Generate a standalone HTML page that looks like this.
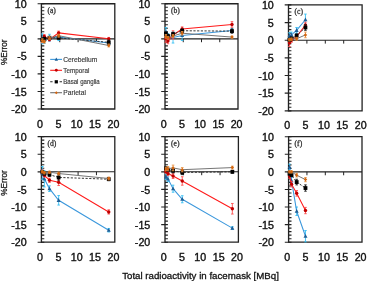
<!DOCTYPE html>
<html><head><meta charset="utf-8"><style>
html,body{margin:0;padding:0;background:#fff;}
body{width:367px;height:281px;overflow:hidden;font-family:"Liberation Sans",sans-serif;}
svg{display:block;filter:blur(0.3px);}
</style></head><body>
<svg width="367" height="281" viewBox="0 0 367 281">
<path d="M41.4 3.75H114.8V109H41.4" fill="none" stroke="#222" stroke-width="1.3"/>
<path d="M41.4 38.83H114.8" stroke="#222" stroke-width="1.1"/>
<path d="M59.75 38.83V42.23M78.1 38.83V42.23M96.45 38.83V42.23" stroke="#222" stroke-width="1"/>
<path d="M41.4 3.15V109.6" stroke="#222" stroke-width="1.35"/>
<path d="M37.6 3.75H44.3M37.6 21.29H44.3M37.6 38.83H44.3M37.6 56.38H44.3M37.6 73.92H44.3M37.6 91.46H44.3M37.6 109H44.3" stroke="#222" stroke-width="1.15"/>
<path d="M41.4 7.26H44.3M41.4 10.77H44.3M41.4 14.28H44.3M41.4 17.78H44.3M41.4 24.8H44.3M41.4 28.31H44.3M41.4 31.82H44.3M41.4 35.33H44.3M41.4 42.34H44.3M41.4 45.85H44.3M41.4 49.36H44.3M41.4 52.87H44.3M41.4 59.88H44.3M41.4 63.39H44.3M41.4 66.9H44.3M41.4 70.41H44.3M41.4 77.42H44.3M41.4 80.93H44.3M41.4 84.44H44.3M41.4 87.95H44.3M41.4 94.97H44.3M41.4 98.47H44.3M41.4 101.98H44.3M41.4 105.49H44.3" stroke="#222" stroke-width="1.1"/>
<text transform="translate(26.7 7.85) scale(1.07 1)" font-family='"Liberation Sans", sans-serif' font-size="10" fill="#111" text-anchor="end" stroke="#111" stroke-width="0.35">10</text>
<text transform="translate(26.7 25.39) scale(1.07 1)" font-family='"Liberation Sans", sans-serif' font-size="10" fill="#111" text-anchor="end" stroke="#111" stroke-width="0.35">5</text>
<text transform="translate(26.7 42.93) scale(1.07 1)" font-family='"Liberation Sans", sans-serif' font-size="10" fill="#111" text-anchor="end" stroke="#111" stroke-width="0.35">0</text>
<text transform="translate(26.7 60.48) scale(1.07 1)" font-family='"Liberation Sans", sans-serif' font-size="10" fill="#111" text-anchor="end" stroke="#111" stroke-width="0.35">-5</text>
<text transform="translate(26.7 78.02) scale(1.07 1)" font-family='"Liberation Sans", sans-serif' font-size="10" fill="#111" text-anchor="end" stroke="#111" stroke-width="0.35">-10</text>
<text transform="translate(26.7 95.56) scale(1.07 1)" font-family='"Liberation Sans", sans-serif' font-size="10" fill="#111" text-anchor="end" stroke="#111" stroke-width="0.35">-15</text>
<text transform="translate(26.7 113.1) scale(1.07 1)" font-family='"Liberation Sans", sans-serif' font-size="10" fill="#111" text-anchor="end" stroke="#111" stroke-width="0.35">-20</text>
<text transform="translate(40 127.6) scale(1.07 1)" font-family='"Liberation Sans", sans-serif' font-size="10" fill="#111" text-anchor="middle" stroke="#111" stroke-width="0.35">0</text>
<text transform="translate(58.35 127.6) scale(1.07 1)" font-family='"Liberation Sans", sans-serif' font-size="10" fill="#111" text-anchor="middle" stroke="#111" stroke-width="0.35">5</text>
<text transform="translate(76.7 127.6) scale(1.07 1)" font-family='"Liberation Sans", sans-serif' font-size="10" fill="#111" text-anchor="middle" stroke="#111" stroke-width="0.35">10</text>
<text transform="translate(95.05 127.6) scale(1.07 1)" font-family='"Liberation Sans", sans-serif' font-size="10" fill="#111" text-anchor="middle" stroke="#111" stroke-width="0.35">15</text>
<text transform="translate(113.4 127.6) scale(1.07 1)" font-family='"Liberation Sans", sans-serif' font-size="10" fill="#111" text-anchor="middle" stroke="#111" stroke-width="0.35">20</text>
<text x="47.4" y="12.65" font-family='"Liberation Serif", serif' font-size="7.6" fill="#333" stroke="#333" stroke-width="0.3">(a)</text>
<path d="M42.32 33.92V43.75M41.02 33.92H43.62M41.02 43.75H43.62M44.34 36.38V43.39M43.04 36.38H45.64M43.04 43.39H45.64M49.47 34.27V41.29M48.17 34.27H50.77M48.17 41.29H50.77M58.65 33.57V40.59M57.35 33.57H59.95M57.35 40.59H59.95M108.74 40.94V45.15M107.44 40.94H110.04M107.44 45.15H110.04" stroke="#34c0f4" stroke-width="0.9" fill="none"/>
<polyline points="42.32,38.83 44.34,39.89 49.47,37.78 58.65,37.08 108.74,43.04" fill="none" stroke="#3a97dc" stroke-width="1.05"/>
<path d="M42.32 36.63L44.32 40.43L40.32 40.43Z" fill="#1f5f96"/>
<path d="M44.34 37.69L46.34 41.49L42.34 41.49Z" fill="#1f5f96"/>
<path d="M49.47 35.58L51.47 39.38L47.47 39.38Z" fill="#1f5f96"/>
<path d="M58.65 34.88L60.65 38.68L56.65 38.68Z" fill="#1f5f96"/>
<path d="M108.74 40.84L110.74 44.64L106.74 44.64Z" fill="#1f5f96"/>
<path d="M42.32 38.48V42.69M41.02 38.48H43.62M41.02 42.69H43.62M44.34 34.62V38.13M43.04 34.62H45.64M43.04 38.13H45.64M49.47 38.13V40.94M48.17 38.13H50.77M48.17 40.94H50.77M58.65 31.12V34.62M57.35 31.12H59.95M57.35 34.62H59.95M108.74 37.43V40.24M107.44 37.43H110.04M107.44 40.24H110.04" stroke="#ff5050" stroke-width="0.9" fill="none"/>
<polyline points="42.32,40.59 44.34,36.38 49.47,39.53 58.65,32.87 108.74,38.83" fill="none" stroke="#ff1a1a" stroke-width="1.05"/>
<circle cx="42.32" cy="40.59" r="1.7" fill="#c00000"/>
<circle cx="44.34" cy="36.38" r="1.7" fill="#c00000"/>
<circle cx="49.47" cy="39.53" r="1.7" fill="#c00000"/>
<circle cx="58.65" cy="32.87" r="1.7" fill="#c00000"/>
<circle cx="108.74" cy="38.83" r="1.7" fill="#c00000"/>
<path d="M42.32 38.13V41.64M41.02 38.13H43.62M41.02 41.64H43.62M44.34 37.43V40.24M43.04 37.43H45.64M43.04 40.24H45.64M49.47 36.38V39.18M48.17 36.38H50.77M48.17 39.18H50.77M58.65 36.38V39.18M57.35 36.38H59.95M57.35 39.18H59.95M108.74 40.24V44.45M107.44 40.24H110.04M107.44 44.45H110.04" stroke="#202020" stroke-width="0.9" fill="none"/>
<polyline points="42.32,39.89 44.34,38.83 49.47,37.78 58.65,37.78 108.74,42.34" fill="none" stroke="#2a2a2a" stroke-width="0.95" stroke-dasharray="2.2 1.5"/>
<rect x="40.42" y="37.99" width="3.8" height="3.8" fill="#000000"/>
<rect x="42.44" y="36.93" width="3.8" height="3.8" fill="#000000"/>
<rect x="47.57" y="35.88" width="3.8" height="3.8" fill="#000000"/>
<rect x="56.75" y="35.88" width="3.8" height="3.8" fill="#000000"/>
<rect x="106.84" y="40.44" width="3.8" height="3.8" fill="#000000"/>
<path d="M42.32 38.83V42.34M41.02 38.83H43.62M41.02 42.34H43.62M44.34 40.24V43.04M43.04 40.24H45.64M43.04 43.04H45.64M49.47 36.73V39.54M48.17 36.73H50.77M48.17 39.54H50.77M58.65 34.27V37.08M57.35 34.27H59.95M57.35 37.08H59.95M108.74 44.1V46.9M107.44 44.1H110.04M107.44 46.9H110.04" stroke="#e8954a" stroke-width="0.9" fill="none"/>
<polyline points="42.32,40.59 44.34,41.64 49.47,38.13 58.65,35.68 108.74,45.5" fill="none" stroke="#6e6e6e" stroke-width="0.95"/>
<path d="M42.32 38.84L44.07 40.59L42.32 42.34L40.57 40.59Z" fill="#d4660f"/>
<path d="M44.34 39.89L46.09 41.64L44.34 43.39L42.59 41.64Z" fill="#d4660f"/>
<path d="M49.47 36.38L51.22 38.13L49.47 39.88L47.72 38.13Z" fill="#d4660f"/>
<path d="M58.65 33.93L60.4 35.68L58.65 37.43L56.9 35.68Z" fill="#d4660f"/>
<path d="M108.74 43.75L110.49 45.5L108.74 47.25L106.99 45.5Z" fill="#d4660f"/>
<path d="M50.2 59.4H62" stroke="#3a97dc" stroke-width="1.1"/>
<path d="M56.3 57.53L58 60.76L54.6 60.76Z" fill="#1f5f96"/>
<text x="63.3" y="61.8" font-family='"Liberation Sans", sans-serif' font-size="6.5" fill="#3a3a3a" stroke="#3a3a3a" stroke-width="0.15" textLength="34" lengthAdjust="spacingAndGlyphs">Cerebellum</text>
<path d="M50.2 70.3H62" stroke="#ff1a1a" stroke-width="1.1"/>
<circle cx="56.3" cy="70.3" r="1.44" fill="#c00000"/>
<text x="63.3" y="72.7" font-family='"Liberation Sans", sans-serif' font-size="6.5" fill="#3a3a3a" stroke="#3a3a3a" stroke-width="0.15" textLength="26" lengthAdjust="spacingAndGlyphs">Temporal</text>
<path d="M50.2 81.8H52.6M59.6 81.8H62" stroke="#2a2a2a" stroke-width="1.1"/>
<rect x="54.68" y="80.19" width="3.23" height="3.23" fill="#000000"/>
<text x="63.3" y="84.2" font-family='"Liberation Sans", sans-serif' font-size="6.5" fill="#3a3a3a" stroke="#3a3a3a" stroke-width="0.15" textLength="36.4" lengthAdjust="spacingAndGlyphs">Basal ganglia</text>
<path d="M50.2 92.7H62" stroke="#6e6e6e" stroke-width="1.1"/>
<path d="M56.3 91.21L57.79 92.7L56.3 94.19L54.81 92.7Z" fill="#d4660f"/>
<text x="63.3" y="95.1" font-family='"Liberation Sans", sans-serif' font-size="6.5" fill="#3a3a3a" stroke="#3a3a3a" stroke-width="0.15" textLength="22.6" lengthAdjust="spacingAndGlyphs">Parietal</text>
<path d="M165 3.75H238V109H165" fill="none" stroke="#222" stroke-width="1.3"/>
<path d="M165 38.83H238" stroke="#222" stroke-width="1.1"/>
<path d="M183.25 38.83V42.23M201.5 38.83V42.23M219.75 38.83V42.23" stroke="#222" stroke-width="1"/>
<path d="M165 3.15V109.6" stroke="#222" stroke-width="1.35"/>
<path d="M161.2 3.75H167.9M161.2 21.29H167.9M161.2 38.83H167.9M161.2 56.38H167.9M161.2 73.92H167.9M161.2 91.46H167.9M161.2 109H167.9" stroke="#222" stroke-width="1.15"/>
<path d="M165 7.26H167.9M165 10.77H167.9M165 14.28H167.9M165 17.78H167.9M165 24.8H167.9M165 28.31H167.9M165 31.82H167.9M165 35.33H167.9M165 42.34H167.9M165 45.85H167.9M165 49.36H167.9M165 52.87H167.9M165 59.88H167.9M165 63.39H167.9M165 66.9H167.9M165 70.41H167.9M165 77.42H167.9M165 80.93H167.9M165 84.44H167.9M165 87.95H167.9M165 94.97H167.9M165 98.47H167.9M165 101.98H167.9M165 105.49H167.9" stroke="#222" stroke-width="1.1"/>
<text transform="translate(150.3 7.85) scale(1.07 1)" font-family='"Liberation Sans", sans-serif' font-size="10" fill="#111" text-anchor="end" stroke="#111" stroke-width="0.35">10</text>
<text transform="translate(150.3 25.39) scale(1.07 1)" font-family='"Liberation Sans", sans-serif' font-size="10" fill="#111" text-anchor="end" stroke="#111" stroke-width="0.35">5</text>
<text transform="translate(150.3 42.93) scale(1.07 1)" font-family='"Liberation Sans", sans-serif' font-size="10" fill="#111" text-anchor="end" stroke="#111" stroke-width="0.35">0</text>
<text transform="translate(150.3 60.48) scale(1.07 1)" font-family='"Liberation Sans", sans-serif' font-size="10" fill="#111" text-anchor="end" stroke="#111" stroke-width="0.35">-5</text>
<text transform="translate(150.3 78.02) scale(1.07 1)" font-family='"Liberation Sans", sans-serif' font-size="10" fill="#111" text-anchor="end" stroke="#111" stroke-width="0.35">-10</text>
<text transform="translate(150.3 95.56) scale(1.07 1)" font-family='"Liberation Sans", sans-serif' font-size="10" fill="#111" text-anchor="end" stroke="#111" stroke-width="0.35">-15</text>
<text transform="translate(150.3 113.1) scale(1.07 1)" font-family='"Liberation Sans", sans-serif' font-size="10" fill="#111" text-anchor="end" stroke="#111" stroke-width="0.35">-20</text>
<text transform="translate(163.6 127.6) scale(1.07 1)" font-family='"Liberation Sans", sans-serif' font-size="10" fill="#111" text-anchor="middle" stroke="#111" stroke-width="0.35">0</text>
<text transform="translate(181.85 127.6) scale(1.07 1)" font-family='"Liberation Sans", sans-serif' font-size="10" fill="#111" text-anchor="middle" stroke="#111" stroke-width="0.35">5</text>
<text transform="translate(200.1 127.6) scale(1.07 1)" font-family='"Liberation Sans", sans-serif' font-size="10" fill="#111" text-anchor="middle" stroke="#111" stroke-width="0.35">10</text>
<text transform="translate(218.35 127.6) scale(1.07 1)" font-family='"Liberation Sans", sans-serif' font-size="10" fill="#111" text-anchor="middle" stroke="#111" stroke-width="0.35">15</text>
<text transform="translate(236.6 127.6) scale(1.07 1)" font-family='"Liberation Sans", sans-serif' font-size="10" fill="#111" text-anchor="middle" stroke="#111" stroke-width="0.35">20</text>
<text x="171" y="12.65" font-family='"Liberation Serif", serif' font-size="7.6" fill="#333" stroke="#333" stroke-width="0.3">(b)</text>
<path d="M165.91 27.61V36.03M164.61 27.61H167.21M164.61 36.03H167.21M167.92 33.57V40.59M166.62 33.57H169.22M166.62 40.59H169.22M173.03 31.82V43.04M171.73 31.82H174.33M171.73 43.04H174.33M182.16 30.59V40.41M180.85 30.59H183.46M180.85 40.41H183.46M231.98 28.31V32.52M230.68 28.31H233.28M230.68 32.52H233.28" stroke="#34c0f4" stroke-width="0.9" fill="none"/>
<polyline points="165.91,31.82 167.92,37.08 173.03,37.43 182.16,35.5 231.98,30.41" fill="none" stroke="#3a97dc" stroke-width="1.05"/>
<path d="M165.91 29.62L167.91 33.42L163.91 33.42Z" fill="#1f5f96"/>
<path d="M167.92 34.88L169.92 38.68L165.92 38.68Z" fill="#1f5f96"/>
<path d="M173.03 35.23L175.03 39.03L171.03 39.03Z" fill="#1f5f96"/>
<path d="M182.16 33.3L184.16 37.1L180.16 37.1Z" fill="#1f5f96"/>
<path d="M231.98 28.21L233.98 32.01L229.98 32.01Z" fill="#1f5f96"/>
<path d="M165.91 35.33V42.34M164.61 35.33H167.21M164.61 42.34H167.21M167.92 38.13V43.74M166.62 38.13H169.22M166.62 43.74H169.22M173.03 30.76V39.18M171.73 30.76H174.33M171.73 39.18H174.33M182.16 26.91V31.12M180.85 26.91H183.46M180.85 31.12H183.46M231.98 21.64V27.26M230.68 21.64H233.28M230.68 27.26H233.28" stroke="#ff5050" stroke-width="0.9" fill="none"/>
<polyline points="165.91,38.83 167.92,40.94 173.03,34.97 182.16,29.01 231.98,24.45" fill="none" stroke="#ff1a1a" stroke-width="1.05"/>
<circle cx="165.91" cy="38.83" r="1.7" fill="#c00000"/>
<circle cx="167.92" cy="40.94" r="1.7" fill="#c00000"/>
<circle cx="173.03" cy="34.97" r="1.7" fill="#c00000"/>
<circle cx="182.16" cy="29.01" r="1.7" fill="#c00000"/>
<circle cx="231.98" cy="24.45" r="1.7" fill="#c00000"/>
<path d="M165.91 31.82V35.33M164.61 31.82H167.21M164.61 35.33H167.21M167.92 34.27V37.78M166.62 34.27H169.22M166.62 37.78H169.22M173.03 32.34V35.85M171.73 32.34H174.33M171.73 35.85H174.33M182.16 29.01V32.52M180.85 29.01H183.46M180.85 32.52H183.46M231.98 29.01V33.22M230.68 29.01H233.28M230.68 33.22H233.28" stroke="#202020" stroke-width="0.9" fill="none"/>
<polyline points="165.91,33.57 167.92,36.03 173.03,34.1 182.16,30.76 231.98,31.11" fill="none" stroke="#2a2a2a" stroke-width="0.95" stroke-dasharray="2.2 1.5"/>
<rect x="164.01" y="31.67" width="3.8" height="3.8" fill="#000000"/>
<rect x="166.02" y="34.13" width="3.8" height="3.8" fill="#000000"/>
<rect x="171.13" y="32.2" width="3.8" height="3.8" fill="#000000"/>
<rect x="180.25" y="28.86" width="3.8" height="3.8" fill="#000000"/>
<rect x="230.08" y="29.21" width="3.8" height="3.8" fill="#000000"/>
<path d="M165.91 34.62V38.13M164.61 34.62H167.21M164.61 38.13H167.21M167.92 36.38V39.18M166.62 36.38H169.22M166.62 39.18H169.22M173.03 34.62V37.43M171.73 34.62H174.33M171.73 37.43H174.33M182.16 31.47V34.97M180.85 31.47H183.46M180.85 34.97H183.46M231.98 36.03V38.13M230.68 36.03H233.28M230.68 38.13H233.28" stroke="#e8954a" stroke-width="0.9" fill="none"/>
<polyline points="165.91,36.38 167.92,37.78 173.03,36.03 182.16,33.22 231.98,37.08" fill="none" stroke="#6e6e6e" stroke-width="0.95"/>
<path d="M165.91 34.63L167.66 36.38L165.91 38.13L164.16 36.38Z" fill="#d4660f"/>
<path d="M167.92 36.03L169.67 37.78L167.92 39.53L166.17 37.78Z" fill="#d4660f"/>
<path d="M173.03 34.28L174.78 36.03L173.03 37.78L171.28 36.03Z" fill="#d4660f"/>
<path d="M182.16 31.47L183.91 33.22L182.16 34.97L180.41 33.22Z" fill="#d4660f"/>
<path d="M231.98 35.33L233.73 37.08L231.98 38.83L230.23 37.08Z" fill="#d4660f"/>
<path d="M288.5 4.9H362.1V110.8H288.5" fill="none" stroke="#222" stroke-width="1.3"/>
<path d="M288.5 40.2H362.1" stroke="#222" stroke-width="1.1"/>
<path d="M306.9 40.2V43.6M325.3 40.2V43.6M343.7 40.2V43.6" stroke="#222" stroke-width="1"/>
<path d="M288.5 4.3V111.4" stroke="#222" stroke-width="1.35"/>
<path d="M284.7 4.9H291.4M284.7 22.55H291.4M284.7 40.2H291.4M284.7 57.85H291.4M284.7 75.5H291.4M284.7 93.15H291.4M284.7 110.8H291.4" stroke="#222" stroke-width="1.15"/>
<path d="M288.5 8.43H291.4M288.5 11.96H291.4M288.5 15.49H291.4M288.5 19.02H291.4M288.5 26.08H291.4M288.5 29.61H291.4M288.5 33.14H291.4M288.5 36.67H291.4M288.5 43.73H291.4M288.5 47.26H291.4M288.5 50.79H291.4M288.5 54.32H291.4M288.5 61.38H291.4M288.5 64.91H291.4M288.5 68.44H291.4M288.5 71.97H291.4M288.5 79.03H291.4M288.5 82.56H291.4M288.5 86.09H291.4M288.5 89.62H291.4M288.5 96.68H291.4M288.5 100.21H291.4M288.5 103.74H291.4M288.5 107.27H291.4" stroke="#222" stroke-width="1.1"/>
<text transform="translate(273.8 9) scale(1.07 1)" font-family='"Liberation Sans", sans-serif' font-size="10" fill="#111" text-anchor="end" stroke="#111" stroke-width="0.35">10</text>
<text transform="translate(273.8 26.65) scale(1.07 1)" font-family='"Liberation Sans", sans-serif' font-size="10" fill="#111" text-anchor="end" stroke="#111" stroke-width="0.35">5</text>
<text transform="translate(273.8 44.3) scale(1.07 1)" font-family='"Liberation Sans", sans-serif' font-size="10" fill="#111" text-anchor="end" stroke="#111" stroke-width="0.35">0</text>
<text transform="translate(273.8 61.95) scale(1.07 1)" font-family='"Liberation Sans", sans-serif' font-size="10" fill="#111" text-anchor="end" stroke="#111" stroke-width="0.35">-5</text>
<text transform="translate(273.8 79.6) scale(1.07 1)" font-family='"Liberation Sans", sans-serif' font-size="10" fill="#111" text-anchor="end" stroke="#111" stroke-width="0.35">-10</text>
<text transform="translate(273.8 97.25) scale(1.07 1)" font-family='"Liberation Sans", sans-serif' font-size="10" fill="#111" text-anchor="end" stroke="#111" stroke-width="0.35">-15</text>
<text transform="translate(273.8 114.9) scale(1.07 1)" font-family='"Liberation Sans", sans-serif' font-size="10" fill="#111" text-anchor="end" stroke="#111" stroke-width="0.35">-20</text>
<text transform="translate(287.1 129.4) scale(1.07 1)" font-family='"Liberation Sans", sans-serif' font-size="10" fill="#111" text-anchor="middle" stroke="#111" stroke-width="0.35">0</text>
<text transform="translate(305.5 129.4) scale(1.07 1)" font-family='"Liberation Sans", sans-serif' font-size="10" fill="#111" text-anchor="middle" stroke="#111" stroke-width="0.35">5</text>
<text transform="translate(323.9 129.4) scale(1.07 1)" font-family='"Liberation Sans", sans-serif' font-size="10" fill="#111" text-anchor="middle" stroke="#111" stroke-width="0.35">10</text>
<text transform="translate(342.3 129.4) scale(1.07 1)" font-family='"Liberation Sans", sans-serif' font-size="10" fill="#111" text-anchor="middle" stroke="#111" stroke-width="0.35">15</text>
<text transform="translate(360.7 129.4) scale(1.07 1)" font-family='"Liberation Sans", sans-serif' font-size="10" fill="#111" text-anchor="middle" stroke="#111" stroke-width="0.35">20</text>
<text x="294.5" y="13.8" font-family='"Liberation Serif", serif' font-size="7.6" fill="#333" stroke="#333" stroke-width="0.3">(c)</text>
<path d="M289.42 32.79V38.43M288.12 32.79H290.72M288.12 38.43H290.72M291.44 32.08V37.73M290.14 32.08H292.74M290.14 37.73H292.74M296.6 27.49V33.14M295.3 27.49H297.9M295.3 33.14H297.9M305.43 14.08V25.37M304.13 14.08H306.73M304.13 25.37H306.73" stroke="#34c0f4" stroke-width="0.9" fill="none"/>
<polyline points="289.42,35.61 291.44,34.91 296.6,30.32 305.43,19.73" fill="none" stroke="#3a97dc" stroke-width="1.05"/>
<path d="M289.42 33.41L291.42 37.21L287.42 37.21Z" fill="#1f5f96"/>
<path d="M291.44 32.7L293.44 36.51L289.44 36.51Z" fill="#1f5f96"/>
<path d="M296.6 28.12L298.6 31.92L294.6 31.92Z" fill="#1f5f96"/>
<path d="M305.43 17.53L307.43 21.33L303.43 21.33Z" fill="#1f5f96"/>
<path d="M289.42 39.49V46.55M288.12 39.49H290.72M288.12 46.55H290.72M291.44 38.08V42.32M290.14 38.08H292.74M290.14 42.32H292.74M296.6 34.55V38.79M295.3 34.55H297.9M295.3 38.79H297.9M305.43 22.2V27.84M304.13 22.2H306.73M304.13 27.84H306.73" stroke="#ff5050" stroke-width="0.9" fill="none"/>
<polyline points="289.42,43.02 291.44,40.2 296.6,36.67 305.43,25.02" fill="none" stroke="#ff1a1a" stroke-width="1.05"/>
<circle cx="289.42" cy="43.02" r="1.7" fill="#c00000"/>
<circle cx="291.44" cy="40.2" r="1.7" fill="#c00000"/>
<circle cx="296.6" cy="36.67" r="1.7" fill="#c00000"/>
<circle cx="305.43" cy="25.02" r="1.7" fill="#c00000"/>
<path d="M289.42 38.44V41.26M288.12 38.44H290.72M288.12 41.26H290.72M291.44 37.02V39.85M290.14 37.02H292.74M290.14 39.85H292.74M296.6 33.85V37.38M295.3 33.85H297.9M295.3 37.38H297.9M305.43 24.67V30.32M304.13 24.67H306.73M304.13 30.32H306.73" stroke="#202020" stroke-width="0.9" fill="none"/>
<polyline points="289.42,39.85 291.44,38.43 296.6,35.61 305.43,27.49" fill="none" stroke="#2a2a2a" stroke-width="0.95" stroke-dasharray="2.2 1.5"/>
<rect x="287.52" y="37.95" width="3.8" height="3.8" fill="#000000"/>
<rect x="289.54" y="36.53" width="3.8" height="3.8" fill="#000000"/>
<rect x="294.7" y="33.71" width="3.8" height="3.8" fill="#000000"/>
<rect x="303.53" y="25.59" width="3.8" height="3.8" fill="#000000"/>
<path d="M289.42 38.79V40.91M288.12 38.79H290.72M288.12 40.91H290.72M291.44 38.08V40.2M290.14 38.08H292.74M290.14 40.2H292.74M296.6 37.38V40.2M295.3 37.38H297.9M295.3 40.2H297.9M305.43 32.08V37.73M304.13 32.08H306.73M304.13 37.73H306.73" stroke="#e8954a" stroke-width="0.9" fill="none"/>
<polyline points="289.42,39.85 291.44,39.14 296.6,38.79 305.43,34.91" fill="none" stroke="#6e6e6e" stroke-width="0.95"/>
<path d="M289.42 38.1L291.17 39.85L289.42 41.6L287.67 39.85Z" fill="#d4660f"/>
<path d="M291.44 37.39L293.19 39.14L291.44 40.89L289.69 39.14Z" fill="#d4660f"/>
<path d="M296.6 37.04L298.35 38.79L296.6 40.54L294.85 38.79Z" fill="#d4660f"/>
<path d="M305.43 33.16L307.18 34.91L305.43 36.66L303.68 34.91Z" fill="#d4660f"/>
<path d="M41.4 136.6H114.8V242.2H41.4" fill="none" stroke="#222" stroke-width="1.3"/>
<path d="M41.4 171.8H114.8" stroke="#222" stroke-width="1.1"/>
<path d="M59.75 171.8V175.2M78.1 171.8V175.2M96.45 171.8V175.2" stroke="#222" stroke-width="1"/>
<path d="M41.4 136V242.8" stroke="#222" stroke-width="1.35"/>
<path d="M37.6 136.6H44.3M37.6 154.2H44.3M37.6 171.8H44.3M37.6 189.4H44.3M37.6 207H44.3M37.6 224.6H44.3M37.6 242.2H44.3" stroke="#222" stroke-width="1.15"/>
<path d="M41.4 140.12H44.3M41.4 143.64H44.3M41.4 147.16H44.3M41.4 150.68H44.3M41.4 157.72H44.3M41.4 161.24H44.3M41.4 164.76H44.3M41.4 168.28H44.3M41.4 175.32H44.3M41.4 178.84H44.3M41.4 182.36H44.3M41.4 185.88H44.3M41.4 192.92H44.3M41.4 196.44H44.3M41.4 199.96H44.3M41.4 203.48H44.3M41.4 210.52H44.3M41.4 214.04H44.3M41.4 217.56H44.3M41.4 221.08H44.3M41.4 228.12H44.3M41.4 231.64H44.3M41.4 235.16H44.3M41.4 238.68H44.3" stroke="#222" stroke-width="1.1"/>
<text transform="translate(26.7 140.7) scale(1.07 1)" font-family='"Liberation Sans", sans-serif' font-size="10" fill="#111" text-anchor="end" stroke="#111" stroke-width="0.35">10</text>
<text transform="translate(26.7 158.3) scale(1.07 1)" font-family='"Liberation Sans", sans-serif' font-size="10" fill="#111" text-anchor="end" stroke="#111" stroke-width="0.35">5</text>
<text transform="translate(26.7 175.9) scale(1.07 1)" font-family='"Liberation Sans", sans-serif' font-size="10" fill="#111" text-anchor="end" stroke="#111" stroke-width="0.35">0</text>
<text transform="translate(26.7 193.5) scale(1.07 1)" font-family='"Liberation Sans", sans-serif' font-size="10" fill="#111" text-anchor="end" stroke="#111" stroke-width="0.35">-5</text>
<text transform="translate(26.7 211.1) scale(1.07 1)" font-family='"Liberation Sans", sans-serif' font-size="10" fill="#111" text-anchor="end" stroke="#111" stroke-width="0.35">-10</text>
<text transform="translate(26.7 228.7) scale(1.07 1)" font-family='"Liberation Sans", sans-serif' font-size="10" fill="#111" text-anchor="end" stroke="#111" stroke-width="0.35">-15</text>
<text transform="translate(26.7 246.3) scale(1.07 1)" font-family='"Liberation Sans", sans-serif' font-size="10" fill="#111" text-anchor="end" stroke="#111" stroke-width="0.35">-20</text>
<text transform="translate(40 260.8) scale(1.07 1)" font-family='"Liberation Sans", sans-serif' font-size="10" fill="#111" text-anchor="middle" stroke="#111" stroke-width="0.35">0</text>
<text transform="translate(58.35 260.8) scale(1.07 1)" font-family='"Liberation Sans", sans-serif' font-size="10" fill="#111" text-anchor="middle" stroke="#111" stroke-width="0.35">5</text>
<text transform="translate(76.7 260.8) scale(1.07 1)" font-family='"Liberation Sans", sans-serif' font-size="10" fill="#111" text-anchor="middle" stroke="#111" stroke-width="0.35">10</text>
<text transform="translate(95.05 260.8) scale(1.07 1)" font-family='"Liberation Sans", sans-serif' font-size="10" fill="#111" text-anchor="middle" stroke="#111" stroke-width="0.35">15</text>
<text transform="translate(113.4 260.8) scale(1.07 1)" font-family='"Liberation Sans", sans-serif' font-size="10" fill="#111" text-anchor="middle" stroke="#111" stroke-width="0.35">20</text>
<text x="47.4" y="145.5" font-family='"Liberation Serif", serif' font-size="7.6" fill="#333" stroke="#333" stroke-width="0.3">(d)</text>
<path d="M42.32 166.52V179.19M41.02 166.52H43.62M41.02 179.19H43.62M44.34 170.74V186.94M43.04 170.74H45.64M43.04 186.94H45.64M49.47 185.88V191.51M48.17 185.88H50.77M48.17 191.51H50.77M58.65 195.56V205.06M57.35 195.56H59.95M57.35 205.06H59.95M108.74 228.47V231.99M107.44 228.47H110.04M107.44 231.99H110.04" stroke="#34c0f4" stroke-width="0.9" fill="none"/>
<polyline points="42.32,172.86 44.34,178.84 49.47,188.7 58.65,200.31 108.74,230.23" fill="none" stroke="#3a97dc" stroke-width="1.05"/>
<path d="M42.32 170.66L44.32 174.46L40.32 174.46Z" fill="#1f5f96"/>
<path d="M44.34 176.64L46.34 180.44L42.34 180.44Z" fill="#1f5f96"/>
<path d="M49.47 186.5L51.47 190.3L47.47 190.3Z" fill="#1f5f96"/>
<path d="M58.65 198.11L60.65 201.91L56.65 201.91Z" fill="#1f5f96"/>
<path d="M108.74 228.03L110.74 231.83L106.74 231.83Z" fill="#1f5f96"/>
<path d="M42.32 170.04V173.56M41.02 170.04H43.62M41.02 173.56H43.62M44.34 173.56V177.08M43.04 173.56H45.64M43.04 177.08H45.64M49.47 178.14V182.36M48.17 178.14H50.77M48.17 182.36H50.77M58.65 179.19V185.53M57.35 179.19H59.95M57.35 185.53H59.95M108.74 209.82V214.04M107.44 209.82H110.04M107.44 214.04H110.04" stroke="#ff5050" stroke-width="0.9" fill="none"/>
<polyline points="42.32,171.8 44.34,175.32 49.47,180.25 58.65,182.36 108.74,211.93" fill="none" stroke="#ff1a1a" stroke-width="1.05"/>
<circle cx="42.32" cy="171.8" r="1.7" fill="#c00000"/>
<circle cx="44.34" cy="175.32" r="1.7" fill="#c00000"/>
<circle cx="49.47" cy="180.25" r="1.7" fill="#c00000"/>
<circle cx="58.65" cy="182.36" r="1.7" fill="#c00000"/>
<circle cx="108.74" cy="211.93" r="1.7" fill="#c00000"/>
<path d="M42.32 170.74V172.86M41.02 170.74H43.62M41.02 172.86H43.62M44.34 172.15V174.97M43.04 172.15H45.64M43.04 174.97H45.64M49.47 172.86V176.38M48.17 172.86H50.77M48.17 176.38H50.77M58.65 174.62V180.25M57.35 174.62H59.95M57.35 180.25H59.95M108.74 177.78V180.6M107.44 177.78H110.04M107.44 180.6H110.04" stroke="#202020" stroke-width="0.9" fill="none"/>
<polyline points="42.32,171.8 44.34,173.56 49.47,174.62 58.65,177.43 108.74,179.19" fill="none" stroke="#2a2a2a" stroke-width="0.95" stroke-dasharray="2.2 1.5"/>
<rect x="40.42" y="169.9" width="3.8" height="3.8" fill="#000000"/>
<rect x="42.44" y="171.66" width="3.8" height="3.8" fill="#000000"/>
<rect x="47.57" y="172.72" width="3.8" height="3.8" fill="#000000"/>
<rect x="56.75" y="175.53" width="3.8" height="3.8" fill="#000000"/>
<rect x="106.84" y="177.29" width="3.8" height="3.8" fill="#000000"/>
<path d="M42.32 170.74V172.86M41.02 170.74H43.62M41.02 172.86H43.62M44.34 171.8V173.91M43.04 171.8H45.64M43.04 173.91H45.64M49.47 171.1V173.21M48.17 171.1H50.77M48.17 173.21H50.77M58.65 172.15V174.97M57.35 172.15H59.95M57.35 174.97H59.95M108.74 177.08V179.9M107.44 177.08H110.04M107.44 179.9H110.04" stroke="#e8954a" stroke-width="0.9" fill="none"/>
<polyline points="42.32,171.8 44.34,172.86 49.47,172.15 58.65,173.56 108.74,178.49" fill="none" stroke="#6e6e6e" stroke-width="0.95"/>
<path d="M42.32 170.05L44.07 171.8L42.32 173.55L40.57 171.8Z" fill="#d4660f"/>
<path d="M44.34 171.11L46.09 172.86L44.34 174.61L42.59 172.86Z" fill="#d4660f"/>
<path d="M49.47 170.4L51.22 172.15L49.47 173.9L47.72 172.15Z" fill="#d4660f"/>
<path d="M58.65 171.81L60.4 173.56L58.65 175.31L56.9 173.56Z" fill="#d4660f"/>
<path d="M108.74 176.74L110.49 178.49L108.74 180.24L106.99 178.49Z" fill="#d4660f"/>
<path d="M165 136.6H238.4V242.2H165" fill="none" stroke="#222" stroke-width="1.3"/>
<path d="M165 171.8H238.4" stroke="#222" stroke-width="1.1"/>
<path d="M183.35 171.8V175.2M201.7 171.8V175.2M220.05 171.8V175.2" stroke="#222" stroke-width="1"/>
<path d="M165 136V242.8" stroke="#222" stroke-width="1.35"/>
<path d="M161.2 136.6H167.9M161.2 154.2H167.9M161.2 171.8H167.9M161.2 189.4H167.9M161.2 207H167.9M161.2 224.6H167.9M161.2 242.2H167.9" stroke="#222" stroke-width="1.15"/>
<path d="M165 140.12H167.9M165 143.64H167.9M165 147.16H167.9M165 150.68H167.9M165 157.72H167.9M165 161.24H167.9M165 164.76H167.9M165 168.28H167.9M165 175.32H167.9M165 178.84H167.9M165 182.36H167.9M165 185.88H167.9M165 192.92H167.9M165 196.44H167.9M165 199.96H167.9M165 203.48H167.9M165 210.52H167.9M165 214.04H167.9M165 217.56H167.9M165 221.08H167.9M165 228.12H167.9M165 231.64H167.9M165 235.16H167.9M165 238.68H167.9" stroke="#222" stroke-width="1.1"/>
<text transform="translate(150.3 140.7) scale(1.07 1)" font-family='"Liberation Sans", sans-serif' font-size="10" fill="#111" text-anchor="end" stroke="#111" stroke-width="0.35">10</text>
<text transform="translate(150.3 158.3) scale(1.07 1)" font-family='"Liberation Sans", sans-serif' font-size="10" fill="#111" text-anchor="end" stroke="#111" stroke-width="0.35">5</text>
<text transform="translate(150.3 175.9) scale(1.07 1)" font-family='"Liberation Sans", sans-serif' font-size="10" fill="#111" text-anchor="end" stroke="#111" stroke-width="0.35">0</text>
<text transform="translate(150.3 193.5) scale(1.07 1)" font-family='"Liberation Sans", sans-serif' font-size="10" fill="#111" text-anchor="end" stroke="#111" stroke-width="0.35">-5</text>
<text transform="translate(150.3 211.1) scale(1.07 1)" font-family='"Liberation Sans", sans-serif' font-size="10" fill="#111" text-anchor="end" stroke="#111" stroke-width="0.35">-10</text>
<text transform="translate(150.3 228.7) scale(1.07 1)" font-family='"Liberation Sans", sans-serif' font-size="10" fill="#111" text-anchor="end" stroke="#111" stroke-width="0.35">-15</text>
<text transform="translate(150.3 246.3) scale(1.07 1)" font-family='"Liberation Sans", sans-serif' font-size="10" fill="#111" text-anchor="end" stroke="#111" stroke-width="0.35">-20</text>
<text transform="translate(163.6 260.8) scale(1.07 1)" font-family='"Liberation Sans", sans-serif' font-size="10" fill="#111" text-anchor="middle" stroke="#111" stroke-width="0.35">0</text>
<text transform="translate(181.95 260.8) scale(1.07 1)" font-family='"Liberation Sans", sans-serif' font-size="10" fill="#111" text-anchor="middle" stroke="#111" stroke-width="0.35">5</text>
<text transform="translate(200.3 260.8) scale(1.07 1)" font-family='"Liberation Sans", sans-serif' font-size="10" fill="#111" text-anchor="middle" stroke="#111" stroke-width="0.35">10</text>
<text transform="translate(218.65 260.8) scale(1.07 1)" font-family='"Liberation Sans", sans-serif' font-size="10" fill="#111" text-anchor="middle" stroke="#111" stroke-width="0.35">15</text>
<text transform="translate(237 260.8) scale(1.07 1)" font-family='"Liberation Sans", sans-serif' font-size="10" fill="#111" text-anchor="middle" stroke="#111" stroke-width="0.35">20</text>
<text x="171" y="145.5" font-family='"Liberation Serif", serif' font-size="7.6" fill="#333" stroke="#333" stroke-width="0.3">(e)</text>
<path d="M165.92 173.91V179.54M164.62 173.91H167.22M164.62 179.54H167.22M167.94 176.02V181.66M166.64 176.02H169.24M166.64 181.66H169.24M173.07 185.18V192.22M171.77 185.18H174.37M171.77 192.22H174.37M182.25 195.74V202.78M180.95 195.74H183.55M180.95 202.78H183.55M232.34 226.71V229.53M231.04 226.71H233.64M231.04 229.53H233.64" stroke="#34c0f4" stroke-width="0.9" fill="none"/>
<polyline points="165.92,176.73 167.94,178.84 173.07,188.7 182.25,199.26 232.34,228.12" fill="none" stroke="#3a97dc" stroke-width="1.05"/>
<path d="M165.92 174.53L167.92 178.33L163.92 178.33Z" fill="#1f5f96"/>
<path d="M167.94 176.64L169.94 180.44L165.94 180.44Z" fill="#1f5f96"/>
<path d="M173.07 186.5L175.07 190.3L171.07 190.3Z" fill="#1f5f96"/>
<path d="M182.25 197.06L184.25 200.86L180.25 200.86Z" fill="#1f5f96"/>
<path d="M232.34 225.92L234.34 229.72L230.34 229.72Z" fill="#1f5f96"/>
<path d="M165.92 169.69V173.21M164.62 169.69H167.22M164.62 173.21H167.22M167.94 171.45V175.67M166.64 171.45H169.24M166.64 175.67H169.24M173.07 173.56V178.49M171.77 173.56H174.37M171.77 178.49H174.37M182.25 176.73V185.18M180.95 176.73H183.55M180.95 185.18H183.55M232.34 203.48V214.04M231.04 203.48H233.64M231.04 214.04H233.64" stroke="#ff5050" stroke-width="0.9" fill="none"/>
<polyline points="165.92,171.45 167.94,173.56 173.07,176.02 182.25,180.95 232.34,208.76" fill="none" stroke="#ff1a1a" stroke-width="1.05"/>
<circle cx="165.92" cy="171.45" r="1.7" fill="#c00000"/>
<circle cx="167.94" cy="173.56" r="1.7" fill="#c00000"/>
<circle cx="173.07" cy="176.02" r="1.7" fill="#c00000"/>
<circle cx="182.25" cy="180.95" r="1.7" fill="#c00000"/>
<circle cx="232.34" cy="208.76" r="1.7" fill="#c00000"/>
<path d="M165.92 166.87V169.69M164.62 166.87H167.22M164.62 169.69H167.22M167.94 168.28V171.1M166.64 168.28H169.24M166.64 171.1H169.24M173.07 168.63V172.86M171.77 168.63H174.37M171.77 172.86H174.37M182.25 170.39V174.62M180.95 170.39H183.55M180.95 174.62H183.55M232.34 170.39V173.21M231.04 170.39H233.64M231.04 173.21H233.64" stroke="#202020" stroke-width="0.9" fill="none"/>
<polyline points="165.92,168.28 167.94,169.69 173.07,170.74 182.25,172.5 232.34,171.8" fill="none" stroke="#2a2a2a" stroke-width="0.95" stroke-dasharray="2.2 1.5"/>
<rect x="164.02" y="166.38" width="3.8" height="3.8" fill="#000000"/>
<rect x="166.04" y="167.79" width="3.8" height="3.8" fill="#000000"/>
<rect x="171.17" y="168.84" width="3.8" height="3.8" fill="#000000"/>
<rect x="180.35" y="170.6" width="3.8" height="3.8" fill="#000000"/>
<rect x="230.44" y="169.9" width="3.8" height="3.8" fill="#000000"/>
<path d="M165.92 167.22V170.74M164.62 167.22H167.22M164.62 170.74H167.22M167.94 166.52V170.74M166.64 166.52H169.24M166.64 170.74H169.24M173.07 165.11V170.74M171.77 165.11H174.37M171.77 170.74H174.37M182.25 167.58V171.8M180.95 167.58H183.55M180.95 171.8H183.55M232.34 166.17V168.98M231.04 166.17H233.64M231.04 168.98H233.64" stroke="#e8954a" stroke-width="0.9" fill="none"/>
<polyline points="165.92,168.98 167.94,168.63 173.07,167.93 182.25,169.69 232.34,167.58" fill="none" stroke="#6e6e6e" stroke-width="0.95"/>
<path d="M165.92 167.23L167.67 168.98L165.92 170.73L164.17 168.98Z" fill="#d4660f"/>
<path d="M167.94 166.88L169.69 168.63L167.94 170.38L166.19 168.63Z" fill="#d4660f"/>
<path d="M173.07 166.18L174.82 167.93L173.07 169.68L171.32 167.93Z" fill="#d4660f"/>
<path d="M182.25 167.94L184 169.69L182.25 171.44L180.5 169.69Z" fill="#d4660f"/>
<path d="M232.34 165.83L234.09 167.58L232.34 169.33L230.59 167.58Z" fill="#d4660f"/>
<path d="M288.6 136.7H362V242.2H288.6" fill="none" stroke="#222" stroke-width="1.3"/>
<path d="M288.6 171.87H362" stroke="#222" stroke-width="1.1"/>
<path d="M306.95 171.87V175.27M325.3 171.87V175.27M343.65 171.87V175.27" stroke="#222" stroke-width="1"/>
<path d="M288.6 136.1V242.8" stroke="#222" stroke-width="1.35"/>
<path d="M284.8 136.7H291.5M284.8 154.28H291.5M284.8 171.87H291.5M284.8 189.45H291.5M284.8 207.03H291.5M284.8 224.62H291.5M284.8 242.2H291.5" stroke="#222" stroke-width="1.15"/>
<path d="M288.6 140.22H291.5M288.6 143.73H291.5M288.6 147.25H291.5M288.6 150.77H291.5M288.6 157.8H291.5M288.6 161.32H291.5M288.6 164.83H291.5M288.6 168.35H291.5M288.6 175.38H291.5M288.6 178.9H291.5M288.6 182.42H291.5M288.6 185.93H291.5M288.6 192.97H291.5M288.6 196.48H291.5M288.6 200H291.5M288.6 203.52H291.5M288.6 210.55H291.5M288.6 214.07H291.5M288.6 217.58H291.5M288.6 221.1H291.5M288.6 228.13H291.5M288.6 231.65H291.5M288.6 235.17H291.5M288.6 238.68H291.5" stroke="#222" stroke-width="1.1"/>
<text transform="translate(273.9 140.8) scale(1.07 1)" font-family='"Liberation Sans", sans-serif' font-size="10" fill="#111" text-anchor="end" stroke="#111" stroke-width="0.35">10</text>
<text transform="translate(273.9 158.38) scale(1.07 1)" font-family='"Liberation Sans", sans-serif' font-size="10" fill="#111" text-anchor="end" stroke="#111" stroke-width="0.35">5</text>
<text transform="translate(273.9 175.97) scale(1.07 1)" font-family='"Liberation Sans", sans-serif' font-size="10" fill="#111" text-anchor="end" stroke="#111" stroke-width="0.35">0</text>
<text transform="translate(273.9 193.55) scale(1.07 1)" font-family='"Liberation Sans", sans-serif' font-size="10" fill="#111" text-anchor="end" stroke="#111" stroke-width="0.35">-5</text>
<text transform="translate(273.9 211.13) scale(1.07 1)" font-family='"Liberation Sans", sans-serif' font-size="10" fill="#111" text-anchor="end" stroke="#111" stroke-width="0.35">-10</text>
<text transform="translate(273.9 228.72) scale(1.07 1)" font-family='"Liberation Sans", sans-serif' font-size="10" fill="#111" text-anchor="end" stroke="#111" stroke-width="0.35">-15</text>
<text transform="translate(273.9 246.3) scale(1.07 1)" font-family='"Liberation Sans", sans-serif' font-size="10" fill="#111" text-anchor="end" stroke="#111" stroke-width="0.35">-20</text>
<text transform="translate(287.2 260.8) scale(1.07 1)" font-family='"Liberation Sans", sans-serif' font-size="10" fill="#111" text-anchor="middle" stroke="#111" stroke-width="0.35">0</text>
<text transform="translate(305.55 260.8) scale(1.07 1)" font-family='"Liberation Sans", sans-serif' font-size="10" fill="#111" text-anchor="middle" stroke="#111" stroke-width="0.35">5</text>
<text transform="translate(323.9 260.8) scale(1.07 1)" font-family='"Liberation Sans", sans-serif' font-size="10" fill="#111" text-anchor="middle" stroke="#111" stroke-width="0.35">10</text>
<text transform="translate(342.25 260.8) scale(1.07 1)" font-family='"Liberation Sans", sans-serif' font-size="10" fill="#111" text-anchor="middle" stroke="#111" stroke-width="0.35">15</text>
<text transform="translate(360.6 260.8) scale(1.07 1)" font-family='"Liberation Sans", sans-serif' font-size="10" fill="#111" text-anchor="middle" stroke="#111" stroke-width="0.35">20</text>
<text x="294.6" y="145.6" font-family='"Liberation Serif", serif' font-size="7.6" fill="#333" stroke="#333" stroke-width="0.3">(f)</text>
<path d="M289.52 164.13V169.76M288.22 164.13H290.82M288.22 169.76H290.82M291.54 177.14V184.18M290.24 177.14H292.84M290.24 184.18H292.84M296.67 207.03V215.47M295.37 207.03H297.97M295.37 215.47H297.97M305.48 230.59V241.85M304.18 230.59H306.78M304.18 241.85H306.78" stroke="#34c0f4" stroke-width="0.9" fill="none"/>
<polyline points="289.52,166.94 291.54,180.66 296.67,211.25 305.48,236.22" fill="none" stroke="#3a97dc" stroke-width="1.05"/>
<path d="M289.52 164.74L291.52 168.54L287.52 168.54Z" fill="#1f5f96"/>
<path d="M291.54 178.46L293.54 182.26L289.54 182.26Z" fill="#1f5f96"/>
<path d="M296.67 209.05L298.67 212.85L294.67 212.85Z" fill="#1f5f96"/>
<path d="M305.48 234.02L307.48 237.82L303.48 237.82Z" fill="#1f5f96"/>
<path d="M289.52 173.98V178.2M288.22 173.98H290.82M288.22 178.2H290.82M291.54 181.36V186.99M290.24 181.36H292.84M290.24 186.99H292.84M296.67 190.5V196.13M295.37 190.5H297.97M295.37 196.13H297.97M305.48 207.38V213.71M304.18 207.38H306.78M304.18 213.71H306.78" stroke="#ff5050" stroke-width="0.9" fill="none"/>
<polyline points="289.52,176.09 291.54,184.17 296.67,193.32 305.48,210.55" fill="none" stroke="#ff1a1a" stroke-width="1.05"/>
<circle cx="289.52" cy="176.09" r="1.7" fill="#c00000"/>
<circle cx="291.54" cy="184.17" r="1.7" fill="#c00000"/>
<circle cx="296.67" cy="193.32" r="1.7" fill="#c00000"/>
<circle cx="305.48" cy="210.55" r="1.7" fill="#c00000"/>
<path d="M289.52 172.22V175.03M288.22 172.22H290.82M288.22 175.03H290.82M291.54 173.27V176.79M290.24 173.27H292.84M290.24 176.79H292.84M296.67 179.25V184.88M295.37 179.25H297.97M295.37 184.88H297.97M305.48 184.88V191.21M304.18 184.88H306.78M304.18 191.21H306.78" stroke="#202020" stroke-width="0.9" fill="none"/>
<polyline points="289.52,173.62 291.54,175.03 296.67,182.06 305.48,188.04" fill="none" stroke="#2a2a2a" stroke-width="0.95" stroke-dasharray="2.2 1.5"/>
<rect x="287.62" y="171.72" width="3.8" height="3.8" fill="#000000"/>
<rect x="289.64" y="173.13" width="3.8" height="3.8" fill="#000000"/>
<rect x="294.77" y="180.16" width="3.8" height="3.8" fill="#000000"/>
<rect x="303.58" y="186.14" width="3.8" height="3.8" fill="#000000"/>
<path d="M289.52 170.81V172.92M288.22 170.81H290.82M288.22 172.92H290.82M291.54 170.81V172.92M290.24 170.81H292.84M290.24 172.92H292.84M296.67 173.45V176.97M295.37 173.45H297.97M295.37 176.97H297.97M305.48 177.49V181.71M304.18 177.49H306.78M304.18 181.71H306.78" stroke="#e8954a" stroke-width="0.9" fill="none"/>
<polyline points="289.52,171.87 291.54,171.87 296.67,175.21 305.48,179.6" fill="none" stroke="#6e6e6e" stroke-width="0.95"/>
<path d="M289.52 170.12L291.27 171.87L289.52 173.62L287.77 171.87Z" fill="#d4660f"/>
<path d="M291.54 170.12L293.29 171.87L291.54 173.62L289.79 171.87Z" fill="#d4660f"/>
<path d="M296.67 173.46L298.42 175.21L296.67 176.96L294.92 175.21Z" fill="#d4660f"/>
<path d="M305.48 177.85L307.23 179.6L305.48 181.35L303.73 179.6Z" fill="#d4660f"/>
<text transform="translate(6.8 52.2) rotate(-90)" font-family='"Liberation Sans", sans-serif' font-size="8.2" text-anchor="middle" fill="#222" stroke="#222" stroke-width="0.3">%Error</text>
<text transform="translate(6.8 183) rotate(-90)" font-family='"Liberation Sans", sans-serif' font-size="8.2" text-anchor="middle" fill="#222" stroke="#222" stroke-width="0.3">%Error</text>
<text x="200.5" y="278.7" font-family='"Liberation Sans", sans-serif' font-size="9.7" fill="#111" text-anchor="middle" stroke="#111" stroke-width="0.3">Total radioactivity in facemask [MBq]</text>
</svg>
</body></html>
